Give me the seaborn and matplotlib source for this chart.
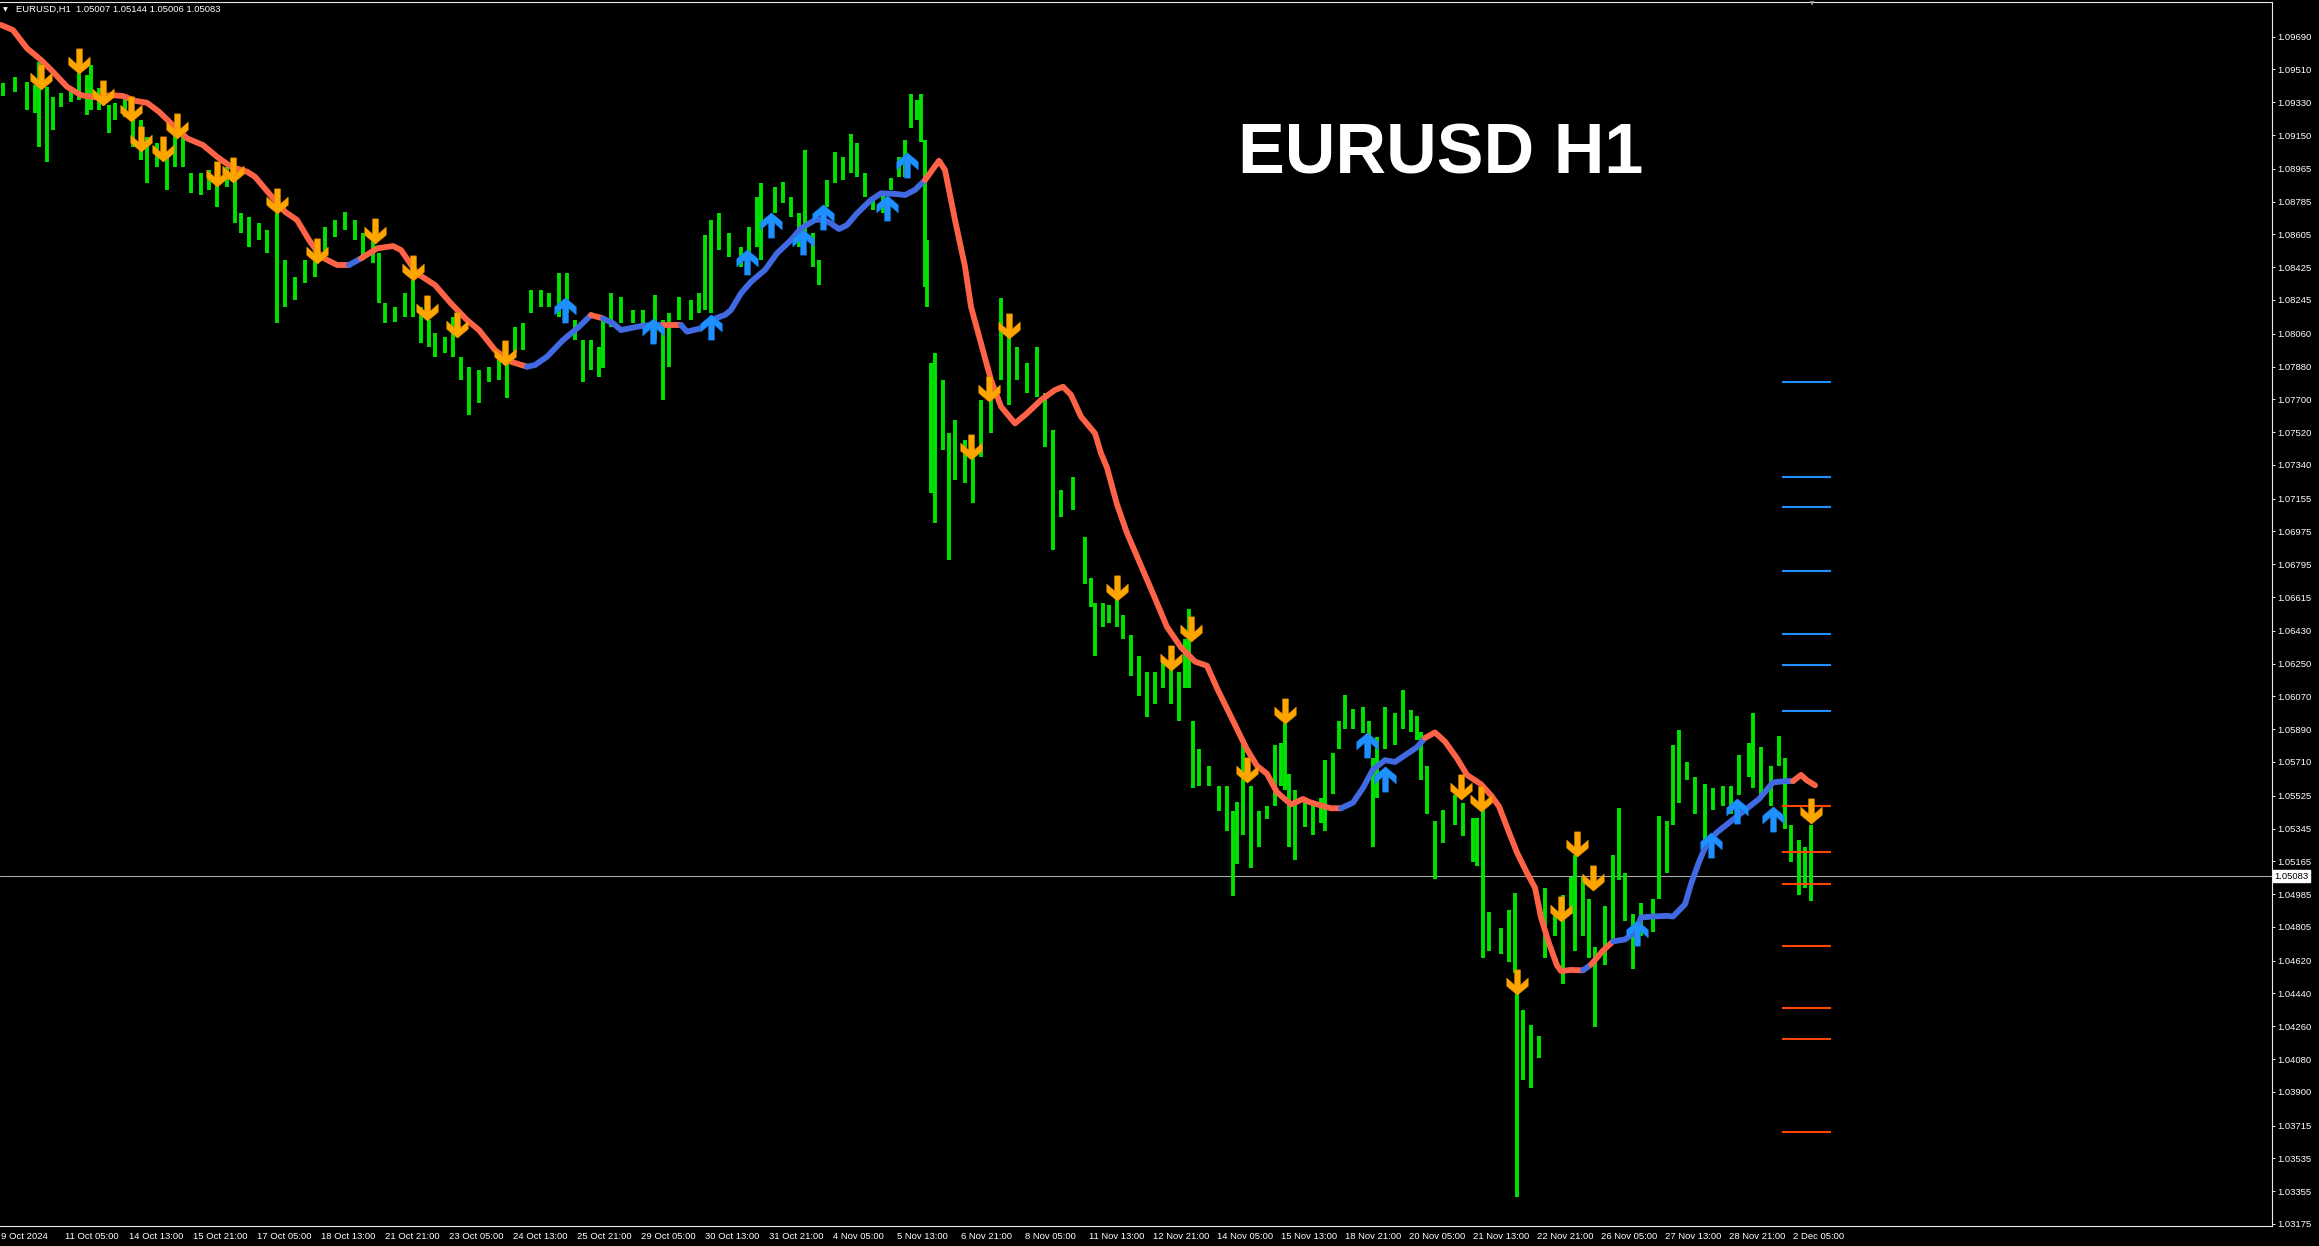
import numpy as np
import matplotlib
matplotlib.use("Agg")
import matplotlib.pyplot as plt
import seaborn as sns
from matplotlib.path import Path
from matplotlib.transforms import blended_transform_factory

# ---------------- data ----------------
# price bars: bar index (H1 bars from 9 Oct 21:00), high, low
bar_idx = [1, 7, 13, 17, 19, 23, 26, 30, 35, 39, 43, 45, 49, 54, 57, 62, 66, 70, 73, 78,
           83, 87, 91, 95, 100, 104, 108, 113, 117, 120, 124, 129, 133, 138, 142, 147, 152, 157, 162, 167,
           172, 177, 181, 186, 189, 192, 197, 202, 206, 210, 214, 217, 222, 226, 230, 234, 239, 244, 249, 253,
           257, 261, 265, 270, 274, 279, 283, 287, 291, 295, 299,
           301, 305, 310, 316, 321, 327, 331, 334, 339, 345, 349, 352, 355, 359, 364, 370, 374, 378, 380, 387,
           391, 395, 399, 402, 406, 409, 413, 417, 421, 425, 428, 432, 436, 441, 445, 449, 452, 455, 458, 460,
           462, 463, 465, 467, 471, 474, 477, 482, 486, 490, 495, 500, 504, 508, 513, 518, 522, 526, 530, 536,
           542, 545, 547, 551, 554, 558, 561, 565, 569, 573, 577, 581, 585, 589, 592, 594, 596, 599, 604, 609,
           613, 616, 618, 621, 625, 629, 633, 637, 640, 642, 644, 647, 652, 656, 660, 662, 666, 669, 672, 676,
           681, 684, 686, 688, 692, 697,
           701, 705, 708, 710, 713, 717, 721, 727, 731, 736, 738, 741, 744, 750, 754, 757, 758, 761, 765, 769,
           772, 777, 781, 785, 787, 791, 794, 797, 802, 806, 809, 812, 816, 820, 826, 829, 833, 836, 839, 843,
           847, 852, 856, 861, 865, 869, 874, 876, 880, 885, 889, 892, 895, 899, 902, 905]
bar_high = [1.09434, 1.09467, 1.09443, 1.09425, 1.09553, 1.09415, 1.09360, 1.09379, 1.09397, 1.09507,
            1.09479, 1.09534, 1.09406, 1.09315, 1.09324, 1.09351, 1.09251, 1.09232, 1.09141, 1.09104,
            1.09049, 1.09177, 1.09159, 1.08940, 1.08940, 1.08958, 1.08940, 1.08976, 1.08921, 1.08720,
            1.08702, 1.08665, 1.08629, 1.08720, 1.08464, 1.08373, 1.08464, 1.08519, 1.08647, 1.08684,
            1.08729, 1.08684, 1.08610, 1.08592, 1.08501, 1.08226, 1.08208, 1.08281, 1.08355, 1.08208,
            1.08135, 1.08062, 1.08044, 1.08153, 1.07934, 1.07879, 1.07861, 1.07879, 1.07952, 1.07897,
            1.08098, 1.08117, 1.08300, 1.08300, 1.08281, 1.08391, 1.08395, 1.08135, 1.08025, 1.08025,
            1.07989,
            1.08135, 1.08282, 1.08263, 1.08190, 1.08190, 1.08273, 1.08135, 1.08172, 1.08263, 1.08245,
            1.08282, 1.08602, 1.08684, 1.08720, 1.08611, 1.08537, 1.08647, 1.08812, 1.08885, 1.08867,
            1.08894, 1.08812, 1.08720, 1.09068, 1.08611, 1.08464, 1.08903, 1.09059, 1.09031, 1.09154,
            1.09105, 1.08940, 1.08812, 1.08830, 1.08913, 1.09031, 1.09123, 1.09375, 1.09342, 1.09375,
            1.09123, 1.08574, 1.07898, 1.07952, 1.07806, 1.07513, 1.07587, 1.07477, 1.07440, 1.07696,
            1.07806, 1.08254, 1.08062, 1.07989, 1.07898, 1.07989, 1.07733, 1.07532, 1.07202, 1.07276,
            1.06944, 1.06720, 1.06585, 1.06585, 1.06574, 1.06608, 1.06518, 1.06406, 1.06294, 1.06205,
            1.06205, 1.06272, 1.06250, 1.06205, 1.06384, 1.06552, 1.05936, 1.05779, 1.05689, 1.05577,
            1.05577, 1.05443, 1.05488, 1.05813, 1.05577, 1.05443, 1.05466, 1.05801, 1.05813, 1.05925,
            1.05645, 1.05555, 1.05488, 1.05488, 1.05510, 1.05723, 1.05757, 1.05936, 1.06075, 1.06003,
            1.06014, 1.05936, 1.05734, 1.05846, 1.06014, 1.05981,
            1.06106, 1.05994, 1.05964, 1.05872, 1.05690, 1.05385, 1.05446, 1.05527, 1.05487, 1.05405,
            1.05405, 1.05446, 1.04888, 1.04797, 1.04898, 1.04989, 1.04451, 1.04350, 1.04268, 1.04208,
            1.05019, 1.04878, 1.04979, 1.05080, 1.05202, 1.05080, 1.04959, 1.04695, 1.04918, 1.05202,
            1.05456, 1.05101, 1.04878, 1.04939, 1.04959, 1.05412, 1.05385, 1.05801, 1.05883, 1.05710,
            1.05629, 1.05588, 1.05568, 1.05578, 1.05578, 1.05751, 1.05812, 1.05980, 1.05791, 1.05690,
            1.05852, 1.05730, 1.05365, 1.05284, 1.05243, 1.05365]
bar_low = [1.09364, 1.09388, 1.09287, 1.09269, 1.09086, 1.09004, 1.09177, 1.09302, 1.09333, 1.09342,
           1.09260, 1.09287, 1.09287, 1.09159, 1.09232, 1.09251, 1.09086, 1.09013, 1.08885, 1.08976,
           1.08848, 1.08976, 1.08976, 1.08830, 1.08821, 1.08848, 1.08757, 1.08867, 1.08665, 1.08610,
           1.08537, 1.08574, 1.08501, 1.08117, 1.08208, 1.08245, 1.08336, 1.08373, 1.08501, 1.08592,
           1.08629, 1.08574, 1.08464, 1.08446, 1.08226, 1.08117, 1.08126, 1.08153, 1.08153, 1.08007,
           1.07989, 1.07934, 1.07952, 1.07934, 1.07806, 1.07614, 1.07678, 1.07797, 1.07806, 1.07705,
           1.07952, 1.07970, 1.08171, 1.08208, 1.08208, 1.08153, 1.08171, 1.08025, 1.07797, 1.07861,
           1.07824,
           1.07870, 1.08099, 1.08117, 1.08117, 1.08108, 1.08026, 1.07696, 1.07879, 1.08135, 1.08135,
           1.08172, 1.08190, 1.08172, 1.08519, 1.08483, 1.08428, 1.08501, 1.08537, 1.08464, 1.08720,
           1.08775, 1.08702, 1.08537, 1.08574, 1.08428, 1.08327, 1.08757, 1.08885, 1.08903, 1.08940,
           1.08922, 1.08812, 1.08739, 1.08720, 1.08849, 1.08922, 1.08922, 1.09187, 1.09233, 1.09114,
           1.08318, 1.08208, 1.07184, 1.07019, 1.07422, 1.06818, 1.07257, 1.07239, 1.07129, 1.07385,
           1.07513, 1.07806, 1.07669, 1.07806, 1.07733, 1.07715, 1.07440, 1.06873, 1.07056, 1.07092,
           1.06686, 1.06563, 1.06294, 1.06451, 1.06473, 1.06451, 1.06384, 1.06182, 1.06070, 1.05958,
           1.06026, 1.06115, 1.06026, 1.05936, 1.06115, 1.06115, 1.05566, 1.05577, 1.05577, 1.05443,
           1.05331, 1.04973, 1.05152, 1.05309, 1.05129, 1.05242, 1.05398, 1.05466, 1.05577, 1.05555,
           1.05242, 1.05174, 1.05354, 1.05309, 1.05376, 1.05331, 1.05533, 1.05779, 1.05891, 1.05891,
           1.05869, 1.05757, 1.05242, 1.05510, 1.05779, 1.05801,
           1.05893, 1.05872, 1.05832, 1.05609, 1.05426, 1.05070, 1.05263, 1.05365, 1.05304, 1.05162,
           1.05142, 1.04634, 1.04675, 1.04654, 1.04614, 1.04553, 1.03325, 1.03964, 1.03923, 1.04086,
           1.04634, 1.04756, 1.04492, 1.04878, 1.04675, 1.04756, 1.04634, 1.04258, 1.04594, 1.04715,
           1.05060, 1.04837, 1.04573, 1.04756, 1.04776, 1.04959, 1.05101, 1.05365, 1.05487, 1.05609,
           1.05426, 1.05284, 1.05446, 1.05466, 1.05426, 1.05527, 1.05629, 1.05568, 1.05527, 1.05466,
           1.05690, 1.05345, 1.05162, 1.04979, 1.05020, 1.04949]

# moving average line (bar index, value) and its rising (blue) stretches
ma_idx = [0, 6, 13, 20, 26, 33, 40, 47, 55, 61, 67, 73, 79, 85, 93, 101, 108, 115, 123, 127,
          134, 142, 148, 154, 160, 168, 174, 180, 188, 196, 200, 208, 217, 225, 233, 239, 247, 255, 263, 267,
          273, 281, 289, 295, 301, 306, 310, 320, 325, 331, 340, 343, 350, 355, 362, 365, 370, 375, 382, 388,
          395, 400, 407, 411, 415, 419, 423, 428, 435, 440, 447, 452, 457, 462, 469, 472, 477, 482, 485, 490,
          495, 500, 507, 513, 520, 527, 531, 535, 540, 547, 550, 553, 558, 563, 570, 577, 583, 590, 597, 603,
          608, 613, 618, 623, 628, 633, 638, 645, 651, 654, 660, 665, 670, 676, 681, 686, 692, 697, 702, 708,
          712, 717, 722, 728, 733, 740, 745, 749, 754, 758, 763, 767, 770, 774, 778, 780, 785, 791, 795, 801,
          806, 812, 817, 820, 826, 833, 836, 842, 845, 849, 853, 858, 865, 872, 879, 886, 892, 896, 900, 903,
          907]
ma_val = [1.09754, 1.09726, 1.09626, 1.09562, 1.09497, 1.09415, 1.09369, 1.09357, 1.09369, 1.09364,
          1.09338, 1.09327, 1.09278, 1.09214, 1.09132, 1.09095, 1.09031, 1.08976, 1.08949, 1.08921,
          1.08830, 1.08729, 1.08684, 1.08574, 1.08482, 1.08437, 1.08437, 1.08473, 1.08528, 1.08541,
          1.08519, 1.08391, 1.08327, 1.08226, 1.08135, 1.08080, 1.07970, 1.07906, 1.07879, 1.07888,
          1.07934, 1.08025, 1.08098, 1.08162, 1.08144, 1.08117, 1.08080, 1.08102, 1.08108, 1.08108,
          1.08108, 1.08071, 1.08090, 1.08135, 1.08163, 1.08190, 1.08282, 1.08345, 1.08410, 1.08501,
          1.08574, 1.08638, 1.08684, 1.08687, 1.08665, 1.08634, 1.08656, 1.08720, 1.08794, 1.08830,
          1.08827, 1.08821, 1.08849, 1.08903, 1.09009, 1.08958, 1.08684, 1.08428, 1.08208, 1.08007,
          1.07806, 1.07660, 1.07568, 1.07623, 1.07696, 1.07751, 1.07769, 1.07724, 1.07605, 1.07513,
          1.07404, 1.07325, 1.07123, 1.06966, 1.06787, 1.06608, 1.06451, 1.06339, 1.06261, 1.06238,
          1.06115, 1.06003, 1.05891, 1.05779, 1.05689, 1.05645, 1.05544, 1.05477, 1.05507, 1.05491,
          1.05471, 1.05456, 1.05456, 1.05487, 1.05568, 1.05669, 1.05720, 1.05710, 1.05747, 1.05791,
          1.05842, 1.05872, 1.05822, 1.05730, 1.05639, 1.05588, 1.05527, 1.05466, 1.05324, 1.05213,
          1.05101, 1.05020, 1.04857, 1.04715, 1.04594, 1.04563, 1.04569, 1.04567, 1.04598, 1.04675,
          1.04726, 1.04736, 1.04776, 1.04857, 1.04862, 1.04866, 1.04862, 1.04929, 1.05040, 1.05162,
          1.05263, 1.05324, 1.05385, 1.05446, 1.05507, 1.05598, 1.05605, 1.05605, 1.05639, 1.05609,
          1.05582]
ma_up_ranges = [(172, 181), (264, 293), (303, 331), (340, 463), (670, 712), (791, 795), (806, 896)]

# signal arrows (bar index, price at arrow centre)
sell_idx = [20, 39, 51, 65, 70, 81, 88, 108, 116, 138, 158, 187, 206, 213, 228, 252,
            485, 494, 504, 558, 585, 595, 623, 642, 730, 740, 758, 780, 788, 796, 905]
sell_px = [1.09470, 1.09558, 1.09379, 1.09291, 1.09130, 1.09075, 1.09198, 1.08938, 1.08956, 1.08786,
           1.08512, 1.08625, 1.08418, 1.08199, 1.08109, 1.07952,
           1.07440, 1.07755, 1.08100, 1.06666, 1.06283, 1.06440, 1.05667, 1.05990, 1.05572, 1.05507,
           1.04502, 1.04902, 1.05259, 1.05071, 1.05440]
buy_idx = [282, 326, 355, 373, 385, 401, 411, 443, 453, 683, 692, 818, 855, 868, 886]
buy_px = [1.08190, 1.08077, 1.08095, 1.08455, 1.08659, 1.08565, 1.08702, 1.08748, 1.08986,
          1.05801, 1.05619, 1.04770, 1.05257, 1.05442, 1.05399]

# level lines drawn in the right margin
levels_blue = [1.07796, 1.07273, 1.07107, 1.06757, 1.06412, 1.06243, 1.05988]
levels_orange = [1.05470, 1.05216, 1.05042, 1.04701, 1.04360, 1.04191, 1.03680]

last_price = 1.05083
header = "EURUSD,H1  1.05007 1.05144 1.05006 1.05083"
title = "EURUSD H1"

y_ticks = [1.09690, 1.09510, 1.09330, 1.09150, 1.08965, 1.08785, 1.08605, 1.08425, 1.08245, 1.08060,
           1.07880, 1.07700, 1.07520, 1.07340, 1.07155, 1.06975, 1.06795, 1.06615, 1.06430, 1.06250,
           1.06070, 1.05890, 1.05710, 1.05525, 1.05345, 1.05165, 1.04985, 1.04805, 1.04620, 1.04440,
           1.04260, 1.04080, 1.03900, 1.03715, 1.03535, 1.03355, 1.03175]
x_labels = ["9 Oct 2024", "11 Oct 05:00", "14 Oct 13:00", "15 Oct 21:00", "17 Oct 05:00",
            "18 Oct 13:00", "21 Oct 21:00", "23 Oct 05:00", "24 Oct 13:00", "25 Oct 21:00",
            "29 Oct 05:00", "30 Oct 13:00", "31 Oct 21:00", "4 Nov 05:00", "5 Nov 13:00",
            "6 Nov 21:00", "8 Nov 05:00", "11 Nov 13:00", "12 Nov 21:00", "14 Nov 05:00",
            "15 Nov 13:00", "18 Nov 21:00", "20 Nov 05:00", "21 Nov 13:00", "22 Nov 21:00",
            "26 Nov 05:00", "27 Nov 13:00", "28 Nov 21:00", "2 Dec 05:00"]
bars_per_label = 32

# ---------------- style ----------------
sns.set_style("dark")
plt.rcParams['font.family'] = ['Liberation Sans', 'DejaVu Sans']

W, H = 2319, 1246
fig = plt.figure(figsize=(W / 100, H / 100), dpi=100, facecolor='black')
ax = fig.add_axes([0, 20 / H, 2272 / W, 1224 / H])
ax.set_facecolor('black')
ax.grid(False)
ax.set_xlim(-0.5, 1135.5)
ax.set_ylim(1.03164, 1.09880)

C_BAR = '#00E400'
C_DN = '#FF6347'
C_UP = '#4169E1'
C_SELL = '#FFA500'
C_BUY = '#1E90FF'

# current price line
ax.axhline(last_price, color='#A8A8A8', lw=0.8, zorder=1)

# price bars
ax.vlines(bar_idx, bar_low, bar_high, colors=C_BAR, linewidth=2.8, zorder=2)

# moving average coloured by direction
def is_up(a, b):
    m = 0.5 * (a + b)
    return any(lo <= m <= hi for lo, hi in ma_up_ranges)

seg_up = [is_up(ma_idx[i], ma_idx[i + 1]) for i in range(len(ma_idx) - 1)]
start = 0
for i in range(1, len(seg_up) + 1):
    if i == len(seg_up) or seg_up[i] != seg_up[start]:
        xs = ma_idx[start:i + 1]
        ys = ma_val[start:i + 1]
        sns.lineplot(x=xs, y=ys, ax=ax, color=C_UP if seg_up[start] else C_DN, lw=4.2,
                     solid_capstyle='round', solid_joinstyle='round', zorder=3,
                     estimator=None, sort=False, legend=False)
        start = i

# arrow markers (thick shaft + chevron head)
dn_verts = [(-2.6, 11.3), (-2.6, -2.2), (-9.6, 3.9), (-9.6, -3.3), (0, -11.3), (9.6, -3.3),
            (9.6, 3.9), (2.6, -2.2), (2.6, 11.3), (-2.6, 11.3)]
codes = [Path.MOVETO] + [Path.LINETO] * (len(dn_verts) - 2) + [Path.CLOSEPOLY]
dn_marker = Path(dn_verts, codes)
up_marker = Path([(x, -y) for x, y in dn_verts], codes)
sns.scatterplot(x=sell_idx, y=sell_px, marker=dn_marker, s=330, color=C_SELL,
                edgecolor='#E08A00', linewidth=0.4, ax=ax, legend=False, zorder=5)
sns.scatterplot(x=buy_idx, y=buy_px, marker=up_marker, s=330, color=C_BUY,
                edgecolor='#1878E0', linewidth=0.4, ax=ax, legend=False, zorder=5)

# level lines at the right
ax.hlines(levels_blue, 890.5, 915, colors='#1E90FF', lw=1.5, zorder=2)
ax.hlines(levels_orange, 890.5, 915, colors='#FF4500', lw=1.5, zorder=2)

# axes styling
ax.spines['left'].set_visible(False)
for side in ['top', 'bottom', 'right']:
    ax.spines[side].set_visible(True)
    ax.spines[side].set_color('#E8E8E8')
    ax.spines[side].set_linewidth(0.8)

ax.yaxis.tick_right()
ax.set_yticks(y_ticks)
ax.set_yticklabels([f"{v:.5f}" for v in y_ticks])
ax.set_xticks([i * bars_per_label for i in range(len(x_labels))])
ax.set_xticklabels(x_labels)
for lab in ax.get_xticklabels():
    lab.set_ha('left')
ax.tick_params(axis='y', which='both', direction='out', length=2.5, width=0.7,
               colors='#E8E8E8', labelcolor='white', labelsize=6.8, pad=1.2,
               right=True, left=False)
ax.tick_params(axis='x', which='both', direction='out', length=2.5, width=0.7,
               colors='#E8E8E8', labelcolor='white', labelsize=6.8, pad=1.5)
ax.set_xlabel('')
ax.set_ylabel('')

# current price tag
tr = blended_transform_factory(ax.transAxes, ax.transData)
ax.text(1.0012, last_price, f"{last_price:.5f}", transform=tr, ha='left', va='center',
        fontsize=6.8, color='black', zorder=6, clip_on=False,
        bbox=dict(boxstyle='square,pad=0.15', fc='white', ec='white'))

# header and title
fig.text(3 / W, 1 - 9.5 / H, "\u25BC", fontsize=4.5, color='white', va='center', ha='left',
         family=['DejaVu Sans'])
fig.text(16 / W, 1 - 9.5 / H, header, fontsize=6.8, color='white', va='center', ha='left')
fig.text(1812 / W, 1 - 4 / H, "\u25BC", fontsize=4.0, color='#A0A0A0', va='center', ha='center',
         family=['DejaVu Sans'])
fig.text(1238 / W, 1 - 173 / H, title, fontsize=50.5, fontweight='bold', color='white',
         va='baseline', ha='left')

fig.savefig('out.png', dpi=100, facecolor='black')
